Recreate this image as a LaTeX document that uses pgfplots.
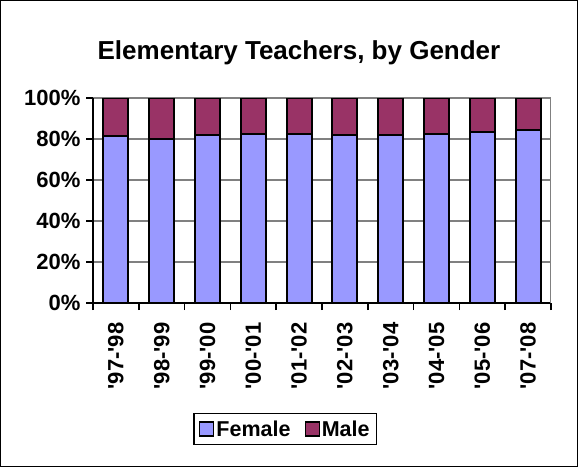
\documentclass[border=0pt]{standalone}
\usepackage{pgfplots}
\pgfplotsset{compat=1.18}
\usepackage{fontspec}
\setmainfont{Liberation Sans}
\definecolor{femalec}{RGB}{153,153,255}
\definecolor{malec}{RGB}{153,51,102}

\begin{document}
\begin{tikzpicture}
\useasboundingbox (0pt,0pt) rectangle (578pt,467pt);
\draw[line width=1.3pt] (0.65pt,0.65pt) rectangle (577.35pt,466.35pt);
\node[font=\bfseries\fontsize{26}{30}\selectfont] at (299pt,414pt) {Elementary Teachers, by Gender};
\begin{axis}[
    at={(93pt,164pt)}, anchor=south west,
    scale only axis, width=458pt, height=205pt,
    ybar stacked, bar width=0.55,
    xmin=-0.5, xmax=9.5, ymin=0, ymax=100,
    axis x line*=bottom, axis y line*=left,
    axis line style={line width=1.6pt, black},
    xtick={0,...,9},
    xticklabels={\textquotesingle97-\textquotesingle98,\textquotesingle98-\textquotesingle99,\textquotesingle99-\textquotesingle00,\textquotesingle00-\textquotesingle01,\textquotesingle01-\textquotesingle02,\textquotesingle02-\textquotesingle03,\textquotesingle03-\textquotesingle04,\textquotesingle04-\textquotesingle05,\textquotesingle05-\textquotesingle06,\textquotesingle07-\textquotesingle08},
    major x tick style={draw=none},
    minor xtick={-0.5,0.5,...,9.5},
    minor tick length=7pt, major tick length=7pt,
    tick align=outside,
    tick style={line width=1.6pt, black},
    xticklabel shift=9pt, yticklabel shift=2pt,
    ytick={0,20,...,100},
    yticklabels={0\%,20\%,40\%,60\%,80\%,100\%},
    ymajorgrids, grid style={gray, line width=1.6pt},
    x tick label style={rotate=90, anchor=east, font=\bfseries\fontsize{22}{26}\selectfont},
    y tick label style={font=\bfseries\fontsize{22}{26}\selectfont},
    legend style={at={(0.42,-0.615)}, anchor=center, draw=black, line width=1.3pt,
        inner xsep=5pt, inner ysep=5pt,
        font=\bfseries\fontsize{21.5}{25}\selectfont, legend columns=2,
        /tikz/every even column/.append style={column sep=12pt}},
    legend image code/.code={\draw[#1, line width=1.3pt] (0pt,-7pt) rectangle (14pt,7pt);},
]
\addplot[fill=femalec, draw=black, line width=2pt] coordinates {
(0,81.3) (1,80.1) (2,82.1) (3,82.6) (4,82.6) (5,82.1) (6,82.0) (7,82.6) (8,83.2) (9,84.2)};
\addplot[fill=malec, draw=black, line width=2pt] coordinates {
(0,18.7) (1,19.9) (2,17.9) (3,17.4) (4,17.4) (5,17.9) (6,18.0) (7,17.4) (8,16.8) (9,15.8)};
\legend{Female, Male}
\draw[gray, line width=1.6pt] (rel axis cs:1,0) -- (rel axis cs:1,1);
\end{axis}
\end{tikzpicture}
\end{document}
